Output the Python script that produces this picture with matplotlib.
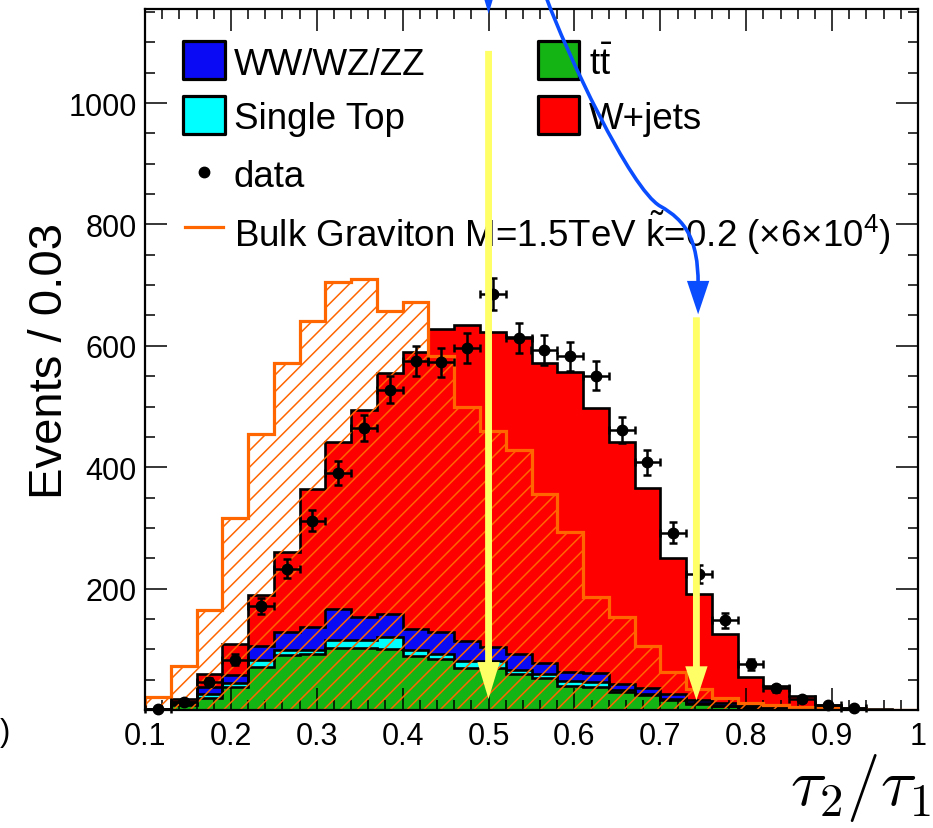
import numpy as np
import matplotlib
matplotlib.use("Agg")
import matplotlib.pyplot as plt
from matplotlib.patches import Rectangle, PathPatch
from matplotlib.path import Path
from matplotlib.lines import Line2D
from matplotlib.ticker import MultipleLocator, FuncFormatter

plt.rcParams["font.family"] = ["Liberation Sans", "DejaVu Sans"]
plt.rcParams["mathtext.fontset"] = "custom"
plt.rcParams["mathtext.rm"] = "Liberation Sans"
plt.rcParams["mathtext.it"] = "Liberation Sans:italic"
plt.rcParams["mathtext.bf"] = "Liberation Sans:bold"
plt.rcParams["hatch.linewidth"] = 1.1

# binning: 30 bins of 0.03 in tau2/tau1
edges = np.round(0.1 + 0.03 * np.arange(31), 3)
centers = 0.5 * (edges[:-1] + edges[1:])

# stacked backgrounds (events / bin), bottom to top
ttbar = np.array([0.5, 8, 20, 38, 71, 90, 92, 102, 102, 100, 89, 84, 70, 70, 59,
                  53, 40, 38, 30, 24, 16, 10, 6, 4, 2, 1, 0.5, 0, 0, 0])
single_top = np.array([0, 2, 6, 7, 11, 9, 7, 13, 13, 21, 10, 9, 11, 10, 7,
                       7, 8, 8, 3, 3, 2, 2, 1, 1, 0.5, 0, 0, 0, 0, 0])
diboson = np.array([0.5, 4, 12, 12, 24, 29, 37, 51, 38, 37, 34, 35, 33, 23, 26,
                    18, 14, 15, 10, 10, 8, 5, 5, 3, 2, 1, 0.5, 0, 0, 0])
total_bkg = np.array([2, 18, 60, 109, 190, 260, 364, 441, 495, 556, 590, 627, 634, 623, 615,
                      572, 557, 498, 442, 365, 250, 191, 125, 55, 39, 23, 8, 4, 1, 0])
wjets = total_bkg - ttbar - single_top - diboson

# signal (scaled x6e4)
signal = np.array([22, 73, 165, 317, 455, 571, 641, 705, 710, 658, 672, 584, 500, 459, 428,
                   356, 294, 186, 153, 106, 62, 35, 20, 12, 8, 5, 3, 1, 0.5, 0])

# data
data = np.array([1, 14, 46, 83, 172, 233, 312, 391, 465, 528, 575, 573, 596, 685, 613,
                 593, 583, 551, 461, 408, 292, 224, 148, 75, 36, 18, 9, 3, 0, 0])

components = [
    (ttbar, "#14b414"),
    (single_top, "#00ffff"),
    (diboson, "#0a0af5"),
    (wjets, "#ff0000"),
]
sig_color = "#ff6600"

fig = plt.figure(figsize=(9.33, 8.29), dpi=100)
ax = fig.add_axes([145 / 933, 118 / 829, 773 / 933, 701 / 829])

bottom = np.zeros(len(centers))
for vals, col in components:
    top = bottom + vals
    ax.stairs(top, edges, baseline=bottom, fill=True, color=col, lw=0, zorder=1)
    ax.stairs(top, edges, baseline=None, color="black", lw=1.9, zorder=1.5)
    bottom = top

# signal: hatched + outline
ax.bar(edges[:-1], signal, width=0.03, align="edge", fill=False, hatch="//",
       edgecolor=sig_color, linewidth=0, zorder=2)
ax.stairs(signal, edges, color=sig_color, lw=2.3, zorder=2.5)

# data points
m = data > 0
ax.errorbar(centers[m], data[m], xerr=0.015, yerr=np.sqrt(data[m]), fmt="o",
            color="black", ms=7.5, elinewidth=1.8, capsize=3, capthick=1.8, zorder=3,
            clip_on=False)

ax.set_xlim(0.1, 1.0)
ax.set_ylim(0, 1155)
ax.xaxis.set_major_locator(MultipleLocator(0.1))
ax.xaxis.set_minor_locator(MultipleLocator(0.02))
ax.yaxis.set_major_locator(MultipleLocator(200))
ax.yaxis.set_minor_locator(MultipleLocator(50))
ax.xaxis.set_major_formatter(FuncFormatter(lambda v, p: f"{v:g}"))
ax.yaxis.set_major_formatter(FuncFormatter(lambda v, p: "" if v == 0 else f"{v:g}"))
ax.tick_params(which="both", direction="in", top=True, right=True, width=1.1)
ax.tick_params(which="major", length=16, labelsize=22)
ax.tick_params(axis="x", which="major", pad=8)
ax.tick_params(axis="y", which="major", pad=6)
ax.tick_params(which="minor", length=7.5)
for sp in ax.spines.values():
    sp.set_linewidth(1.6)

fig.text(50 / 933, 1 - 361 / 829, "Events / 0.03", rotation=90, ha="center",
         va="center", fontsize=34)
fig.text(790 / 933, 1 - 805 / 829, r"$\tau_2/\tau_1$", ha="left", va="baseline",
         fontsize=48, math_fontfamily="cm")
fig.text(0.0, 1 - 733 / 829, ")", ha="left", va="center", fontsize=22)

# legend drawn by hand (ROOT style)
tA = ax.transAxes
leg_size = 26.5
box_w, box_h = 0.054, 0.054
legend_rows = [
    (0.927, 0.049, "#0a0af5", "WW/WZ/ZZ"),
    (0.849, 0.049, "#00ffff", "Single Top"),
    (0.927, 0.508, "#14b414", r"$\mathrm{t\bar{t}}$"),
    (0.849, 0.508, "#ff0000", "W+jets"),
]
for yc, x0, col, lab in legend_rows:
    ax.add_patch(Rectangle((x0, yc - box_h / 2), box_w, box_h, transform=tA,
                           facecolor=col, edgecolor="black", lw=2.3,
                           joinstyle="round", zorder=6, clip_on=False))
    ax.text(x0 + box_w + 0.012, yc, lab, transform=tA, ha="left",
            va="center_baseline", fontsize=leg_size, zorder=6)
ax.add_line(Line2D([0.076], [0.767], transform=tA, marker="o", ms=7.5,
                   color="black", zorder=6))
ax.text(0.115, 0.767, "data", transform=tA, ha="left", va="center_baseline",
        fontsize=leg_size, zorder=6)
ax.add_line(Line2D([0.052, 0.101], [0.689, 0.689], transform=tA, color=sig_color,
                   lw=2.3, zorder=6))
ax.text(0.115, 0.689, r"Bulk Graviton M=1.5TeV $\tilde{\mathrm{k}}$=0.2 (×6×10$^{4}$)",
        transform=tA, ha="left", va="center_baseline", fontsize=leg_size, zorder=6)

# yellow cut arrows
yellow = "#ffff66"
ax.arrow(0.5, 1086, 0, 18 - 1086, width=0.008, head_width=0.026, head_length=61,
         length_includes_head=True, color=yellow, lw=0, zorder=7, clip_on=False)
ax.arrow(0.742, 647, 0, 16 - 647, width=0.008, head_width=0.026, head_length=56,
         length_includes_head=True, color=yellow, lw=0, zorder=7, clip_on=False)

# blue arrows
blue = "#0a4dff"
ax.arrow(0.5, 1260, 0, 1147 - 1260, width=0.0035, head_width=0.0175, head_length=42,
         length_includes_head=True, color=blue, lw=0, zorder=8, clip_on=False)
curve = Path([(0.568, 1171), (0.589, 1089), (0.665, 858), (0.700, 830),
              (0.729, 807), (0.744, 776), (0.744, 702)],
             [Path.MOVETO, Path.CURVE4, Path.CURVE4, Path.CURVE4,
              Path.CURVE4, Path.CURVE4, Path.CURVE4])
ax.add_patch(PathPatch(curve, transform=ax.transData, fill=False, edgecolor=blue,
                       lw=2.6, zorder=8, clip_on=False))
ax.arrow(0.744, 707, 0, -55, width=0.0, head_width=0.026, head_length=55,
         length_includes_head=True, color=blue, lw=0, zorder=8, clip_on=False)

fig.savefig("out.png", dpi=100)
